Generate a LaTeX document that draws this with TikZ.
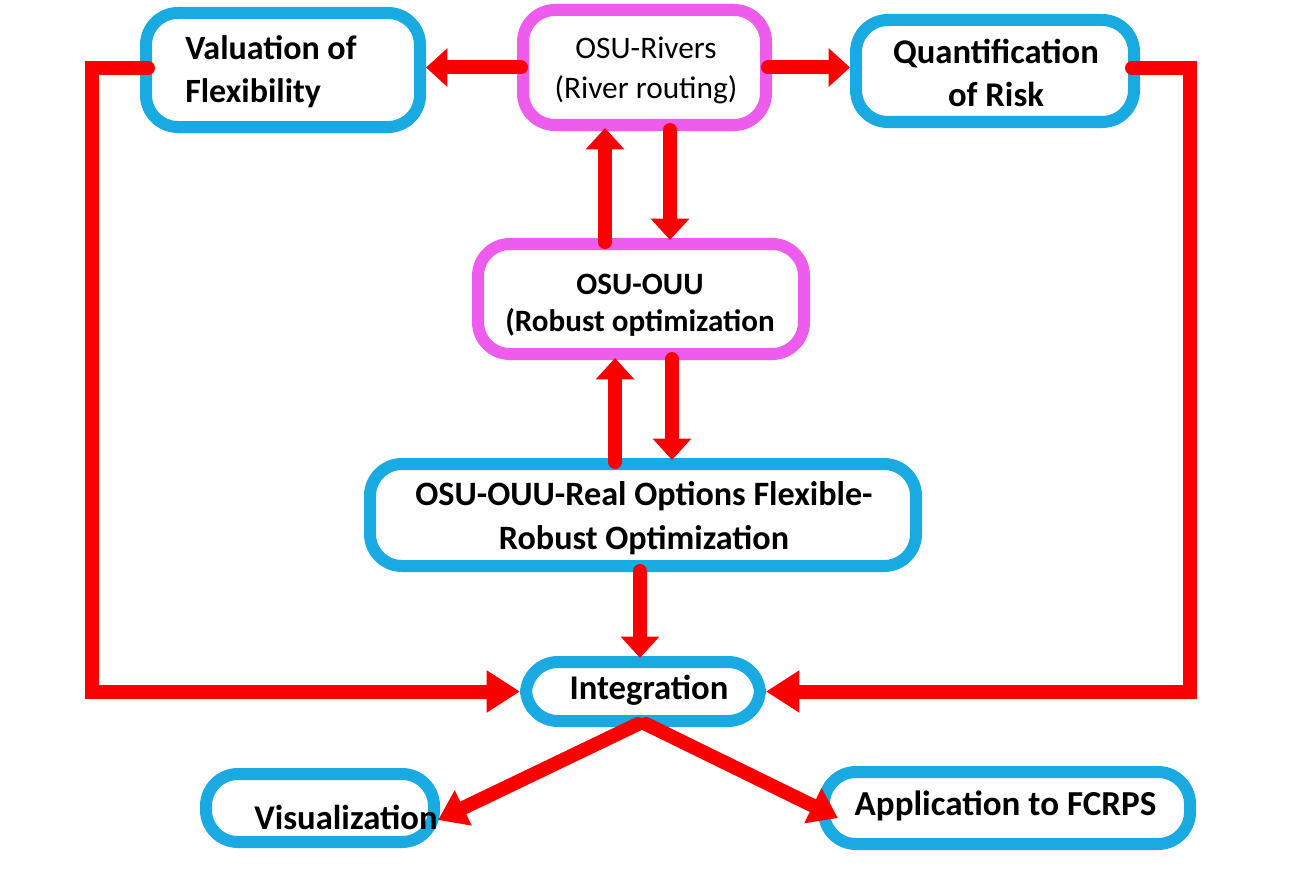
\documentclass[tikz,border=0pt]{standalone}
\usepackage{fontspec}
\setmainfont{Carlito}
\usetikzlibrary{arrows.meta,calc}
\definecolor{bblue}{RGB}{26,170,226}
\definecolor{bmag}{RGB}{238,92,238}
\definecolor{ared}{RGB}{250,0,0}
\tikzset{
  box/.style={draw, line width=9pt, rounded corners=24pt, fill=white, align=center, inner sep=0pt},
  sz/.style 2 args={minimum width=#1*0.75pt, minimum height=#2*0.75pt},
  bluebox/.style={box, draw=bblue},
  magbox/.style={box, draw=bmag},
  lbl/.style={inner sep=0pt, align=center},
  arr/.style={draw=ared, line width=10.5pt, line join=miter, line cap=round, color=ared},
  tipv/.style={arr, -{Triangle[width=28pt,length=16pt]}},
  tiph/.style={arr, -{Triangle[width=30pt,length=25pt]}},
  tipd/.style={arr, -{Triangle[width=28pt,length=21pt]}},
}
\begin{document}
\begin{tikzpicture}[x=0.75pt,y=-0.75pt]
\useasboundingbox[fill=white] (0,0) rectangle (1289,874);
% boxes
\node[bluebox, sz={274}{114}] (Val) at (283,70) {};
\node[lbl, anchor=west, align=left, font=\bfseries\fontsize{25.5}{32}\selectfont] (ValT) at (185,72) {Valuation of\\Flexibility};
\node[magbox, sz={243}{115}] (Riv) at (644.5,67.5) {};
\node[lbl, font=\fontsize{23.5}{30}\selectfont] (RivT) at (646,70) {OSU-Rivers\\(River routing)};
\node[bluebox, sz={278}{102}] (Qua) at (995,71) {};
\node[lbl, font=\bfseries\fontsize{26}{32}\selectfont] (QuaT) at (996,73) {Quantification\\of Risk};
\node[magbox, sz={326}{110}] (OUU) at (641,299) {};
\node[lbl, font=\bfseries\fontsize{23.3}{28}\selectfont] (OUUT) at (640,305) {OSU-OUU\\(Robust optimization};
\node[bluebox, sz={546}{102}] (Real) at (643,515) {};
\node[lbl, font=\bfseries\fontsize{25.6}{33}\selectfont] (RealT) at (644,518) {OSU-OUU-Real Options Flexible-\\Robust Optimization};
\node[bluebox, sz={234}{59}] (Int) at (643,691.5) {};
\node[lbl, font=\bfseries\fontsize{26}{30}\selectfont] (IntT) at (649,690) {Integration};
\node[bluebox, sz={228}{68}] (Vis) at (320,808) {};
\node[lbl, font=\bfseries\fontsize{26}{30}\selectfont] (VisT) at (346,817) {Visualization};
\node[bluebox, sz={366}{72}] (App) at (1007,808) {};
\node[lbl, font=\bfseries\fontsize{26.3}{30}\selectfont] (AppT) at (1005.5,806) {Application to FCRPS};
% connectors
\draw[tipv] ($(Riv.west)+(4,0)$) -- (Val.east |- Riv.west);
\draw[tipv] ($(Riv.east)+(-4,0)$) -- (Qua.west |- Riv.east);
\draw[tipv] ($(OUU.north)+(-36,4)$) -- ($(Riv.south)+(-39.5,-3)$);
\draw[tipv] ($(Riv.south)+(25.5,-1)$) -- ($(OUU.north)+(29,2)$);
\draw[tipv] ($(Real.north)+(-28,4)$) -- ($(OUU.south)+(-26,-2)$);
\draw[tipv] ($(OUU.south)+(31,-1)$) -- ($(Real.north)+(29,2)$);
\draw[tipv] ($(Real.south)+(-3,-1)$) -- ($(Int.north)+(-3,2)$);
\draw[tiph] ($(Val.west)+(8,-2)$) -- ++(-56,0) |- (Int.west);
\draw[tiph] ($(Qua.east)+(-8,-3)$) -- ++(58,0) |- (Int.east);
\draw[tipd] ($(Int.south)+(-5,-3)$) -- ($(Vis.east)+(-2,12)$);
\draw[tipd] ($(Int.south)+(3,-3)$) -- ($(App.west)+(20,10)$);
\end{tikzpicture}
\end{document}
